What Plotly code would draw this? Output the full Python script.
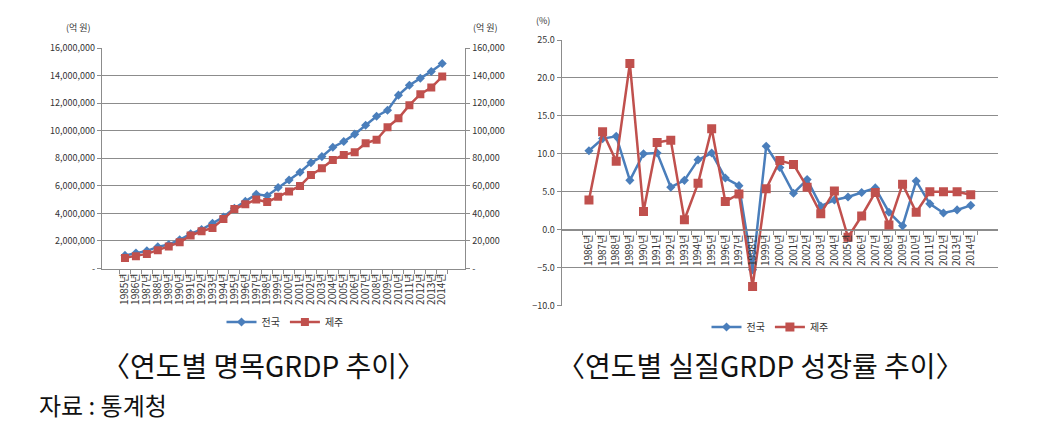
import plotly.graph_objects as go

W, H = 1064, 432
OFF = 8  # page body margin offset

# ---------------- data ----------------
years_nom = [f"{y}년" for y in range(1985, 2015)]
nation_nominal = [950000, 1120000, 1280000, 1570000, 1740000, 2080000, 2520000, 2830000,
                  3280000, 3740000, 4370000, 4870000, 5380000, 5280000, 5880000, 6420000,
                  6980000, 7680000, 8120000, 8800000, 9210000, 9750000, 10400000, 11050000,
                  11480000, 12580000, 13300000, 13800000, 14300000, 14880000]
jeju_nominal = [7700, 8900, 10600, 13300, 15900, 19000, 23900, 27000, 29400, 35900,
                43100, 46700, 50000, 48200, 52100, 55800, 59900, 67900, 72700, 78800,
                82400, 84400, 90900, 93400, 102500, 109000, 118500, 126500, 131300, 139300]

years_real = [f"{y}년" for y in range(1986, 2015)]
nation_growth = [10.4, 12.0, 12.3, 6.5, 10.0, 10.1, 5.6, 6.5, 9.2, 10.1, 6.8, 5.8, -5.3,
                 11.0, 8.2, 4.8, 6.6, 3.1, 3.9, 4.3, 4.9, 5.5, 2.3, 0.5, 6.4, 3.4, 2.2,
                 2.6, 3.2]
jeju_growth = [3.9, 12.9, 9.0, 21.9, 2.4, 11.5, 11.8, 1.3, 6.1, 13.3, 3.7, 4.7, -7.5,
               5.4, 9.1, 8.6, 5.6, 2.1, 5.1, -1.0, 1.8, 4.9, 0.6, 6.0, 2.3, 5.0, 5.0,
               5.0, 4.6]

left_tickvals = [0, 2000000, 4000000, 6000000, 8000000, 10000000, 12000000, 14000000, 16000000]
left_ticktext = ["-", "2,000,000", "4,000,000", "6,000,000", "8,000,000", "10,000,000",
                 "12,000,000", "14,000,000", "16,000,000"]
right_tickvals = [0, 20000, 40000, 60000, 80000, 100000, 120000, 140000, 160000]
right_ticktext = ["-", "20,000", "40,000", "60,000", "80,000", "100,000", "120,000",
                  "140,000", "160,000"]
growth_tickvals = [-10, -5, 0, 5, 10, 15, 20, 25]

names = ["전국", "제주"]
# --------------------------------------

BLUE = "#4A7EBB"
RED = "#C0504D"
GRID = "#8C8C8C"
TXT = "#333333"
FONT = "Noto Sans CJK KR"


def px(x):
    return (x - OFF) / W


def py(y):
    return 1 - (y - OFF) / H


fig = go.Figure()

fig.add_trace(go.Scatter(x=years_nom, y=nation_nominal, name=names[0], mode="lines+markers",
                         line=dict(color=BLUE, width=2.5),
                         marker=dict(symbol="diamond", size=7, color=BLUE),
                         xaxis="x", yaxis="y", legend="legend"))
fig.add_trace(go.Scatter(x=years_nom, y=jeju_nominal, name=names[1], mode="lines+markers",
                         line=dict(color=RED, width=2.5),
                         marker=dict(symbol="square", size=8, color=RED),
                         xaxis="x", yaxis="y2", legend="legend"))
fig.add_trace(go.Scatter(x=years_real, y=nation_growth, name=names[0], mode="lines+markers",
                         line=dict(color=BLUE, width=2.5),
                         marker=dict(symbol="diamond", size=7, color=BLUE),
                         xaxis="x2", yaxis="y3", legend="legend2"))
fig.add_trace(go.Scatter(x=years_real, y=jeju_growth, name=names[1], mode="lines+markers",
                         line=dict(color=RED, width=2.5),
                         marker=dict(symbol="square", size=9, color=RED),
                         xaxis="x2", yaxis="y3", legend="legend2"))

ly0, ly1 = 268.5, 48
ry0, ry1 = 305.5, 40
r_dom = [py(ry0), py(ry1)]
zero_pos = r_dom[0] + (0 - (-10)) / 35 * (r_dom[1] - r_dom[0])

axis_common = dict(linecolor=GRID, tickcolor=GRID, ticks="outside", ticklen=4,
                   zeroline=False, automargin=False)
tf9 = dict(size=9, color=TXT, family=FONT)
tf10 = dict(size=10, color=TXT, family=FONT)

fig.update_layout(
    template="none",
    width=W, height=H, margin=dict(l=0, r=0, t=0, b=0, autoexpand=False),
    paper_bgcolor="white", plot_bgcolor="white",
    font=dict(family=FONT, color=TXT),
    xaxis=dict(domain=[px(101.8), px(465.4)], anchor="y", type="category",
               tickmode="array", tickvals=years_nom, ticktext=years_nom, tickfont=tf10,
               tickangle=-90, tickson="boundaries", showline=True, showgrid=False,
               **axis_common),
    yaxis=dict(domain=[py(ly0), py(ly1)], range=[0, 16000000], tickvals=left_tickvals,
               ticktext=left_ticktext, tickfont=tf9, showgrid=True, gridcolor=GRID,
               gridwidth=1, showline=True, anchor="x", **axis_common),
    yaxis2=dict(overlaying="y", side="right", range=[0, 160000], tickvals=right_tickvals,
                ticktext=right_ticktext, tickfont=tf9, showgrid=False, showline=True,
                anchor="x", **axis_common),
    xaxis2=dict(domain=[px(561.5), px(998.2)], anchor="free", position=zero_pos,
                type="category", tickmode="array", tickvals=years_real,
                ticktext=years_real, tickfont=tf10, tickangle=-90, tickson="boundaries",
                showline=True, showgrid=False, **axis_common),
    yaxis3=dict(domain=r_dom, range=[-10, 25], tickvals=growth_tickvals, tickformat=".1f",
                tickfont=tf9, showgrid=True, gridcolor=GRID, gridwidth=1, showline=True,
                anchor="x2", **axis_common),
    legend=dict(x=px(285), y=py(322), xanchor="center", yanchor="middle",
                orientation="h", font=dict(size=10, color=TXT, family=FONT),
                bgcolor="rgba(0,0,0,0)", itemwidth=30, tracegroupgap=0),
    legend2=dict(x=px(770), y=py(327), xanchor="center", yanchor="middle",
                 orientation="h", font=dict(size=10, color=TXT, family=FONT),
                 bgcolor="rgba(0,0,0,0)", itemwidth=30, tracegroupgap=0),
    showlegend=True,
)

ann = [
    dict(text="(억 원)", x=px(78), y=py(28)),
    dict(text="(억 원)", x=px(485), y=py(28)),
    dict(text="(%)", x=px(543), y=py(20)),
]
for a in ann:
    fig.add_annotation(text=a["text"], x=a["x"], y=a["y"], xref="paper", yref="paper",
                       showarrow=False, font=dict(size=9, color=TXT, family=FONT),
                       xanchor="center", yanchor="middle")

fig.add_annotation(text="〈연도별 명목GRDP 추이〉", x=px(263), y=py(365), xref="paper",
                   yref="paper", showarrow=False, xanchor="center", yanchor="middle",
                   font=dict(size=28, color="#111111", family=FONT))
fig.add_annotation(text="〈연도별 실질GRDP 성장률 추이〉", x=px(760), y=py(365), xref="paper",
                   yref="paper", showarrow=False, xanchor="center", yanchor="middle",
                   font=dict(size=28, color="#111111", family=FONT))
fig.add_annotation(text="자료 : 통계청", x=px(37), y=py(404), xref="paper",
                   yref="paper", showarrow=False, xanchor="left", yanchor="middle",
                   font=dict(size=24, color="#111111", family=FONT))

fig.write_html("out.html")
